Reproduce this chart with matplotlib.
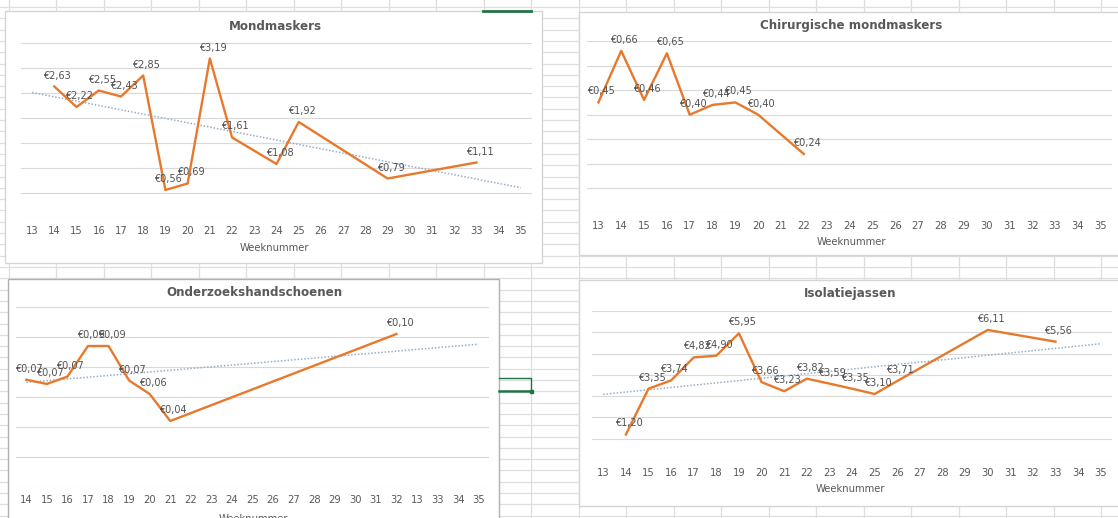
import numpy as np
import matplotlib
matplotlib.use('Agg')
import matplotlib.pyplot as plt
from matplotlib.patches import Rectangle

plt.rcParams['font.family'] = ['DejaVu Sans']

# ---------------- data ----------------
week_axis = list(range(13, 36))

mond_weeks = [14, 15, 16, 17, 18, 19, 20, 21, 22, 24, 25, 29, 33]
mond_prices = [2.63, 2.22, 2.55, 2.43, 2.85, 0.56, 0.69, 3.19, 1.61, 1.08, 1.92, 0.79, 1.11]

chir_weeks = [13, 14, 15, 16, 17, 18, 19, 20, 22]
chir_prices = [0.45, 0.66, 0.46, 0.65, 0.40, 0.44, 0.45, 0.40, 0.24]

hand_categories = ['14', '15', '16', '17', '18', '19', '20', '21', '22', '23', '24', '25',
                   '26', '27', '28', '29', '30', '31', '32', '13', '33', '34', '35']
hand_weeks = ['14', '15', '16', '17', '18', '19', '20', '21', '32']
hand_prices = [0.0715, 0.0687, 0.0736, 0.094, 0.094, 0.071, 0.062, 0.044, 0.102]

iso_weeks = [14, 15, 16, 17, 18, 19, 20, 21, 22, 23, 24, 25, 26, 30, 33]
iso_prices = [1.20, 3.35, 3.74, 4.82, 4.90, 5.95, 3.66, 3.23, 3.82, 3.59, 3.35, 3.10, 3.71, 6.11, 5.56]

titles = ['Mondmaskers', 'Chirurgische mondmaskers', 'Onderzoekshandschoenen', 'Isolatiejassen']
xlabel = 'Weeknummer'

# ---------------- figure ----------------
W, H = 1118, 518
fig = plt.figure(figsize=(W / 100, H / 100), dpi=100)
fig.patch.set_facecolor('white')
bg = fig.add_axes([0, 0, 1, 1])
bg.set_xlim(0, W)
bg.set_ylim(H, 0)
bg.axis('off')

cell_c = '#dedede'
for x in np.arange(8.5, W, 47.5):
    bg.plot([x, x], [0, H], color=cell_c, lw=0.9, zorder=1)
for y in np.arange(267 - 11.3 * 23, H, 11.3):
    bg.plot([0, W], [y, y], color=cell_c, lw=0.9, zorder=1)

TXT = '#595959'
LINE = '#E8792C'
TREND = '#97AECB'
TITLE_FS = 8.6
TICK_FS = 7.2
LAB_FS = 7.0
XL_FS = 7.2


def fmt(v):
    return ('€%.2f' % v).replace('.', ',')


def chart_box(x0, y0, x1, y1, ec='#d4d4d4'):
    bg.add_patch(Rectangle((x0, y0), x1 - x0, y1 - y0, facecolor='white',
                           edgecolor=ec, lw=1.0, zorder=2))


def px_axes(x0, y0, x1, y1):
    return fig.add_axes([x0 / W, 1 - y1 / H, (x1 - x0) / W, (y1 - y0) / H])


def style(ax, xticks, xticklabels, xlim, ymax, step):
    ax.set_facecolor('none')
    for s in ax.spines.values():
        s.set_visible(False)
    ax.set_xlim(*xlim)
    ax.set_ylim(0, ymax)
    ax.set_yticks(np.arange(0, ymax + step / 2, step))
    ax.set_yticklabels([])
    ax.tick_params(axis='y', length=0)
    ax.set_xticks(xticks)
    ax.set_xticklabels(xticklabels)
    ax.tick_params(axis='x', length=0, pad=5.5, labelsize=TICK_FS, colors=TXT)
    ax.yaxis.grid(True, color='#d9d9d9', lw=0.8)
    ax.set_axisbelow(True)


def labels(ax, xs, ys):
    for x, y in zip(xs, ys):
        ax.annotate(fmt(y), (x, y), xytext=(3, 11), textcoords='offset pixels',
                    ha='center', va='center', fontsize=LAB_FS, color='#505050',
                    annotation_clip=False)


def trend(ax, xs, ys, x0, x1):
    c = np.polyfit(xs, ys, 1)
    tx = np.array([x0, x1])
    ax.plot(tx, np.polyval(c, tx), color=TREND, lw=1.1, ls=(0, (1, 1.2)), zorder=2)


def title(x, y, s):
    bg.text(x, y, s, ha='center', va='center', fontsize=TITLE_FS, fontweight='bold',
            color=TXT, zorder=5)


def xlab(x, y):
    bg.text(x, y, xlabel, ha='center', va='center', fontsize=XL_FS, color=TXT, zorder=5)


# ---- chart 1: Mondmaskers ----
chart_box(5, 11, 542, 263)
ax1 = px_axes(21, 43, 532, 218)
style(ax1, week_axis, [str(w) for w in week_axis], (12.5, 35.5), 3.5, 0.5)
trend(ax1, mond_weeks, mond_prices, 13, 35)
ax1.plot(mond_weeks, mond_prices, color=LINE, lw=1.7, zorder=3)
labels(ax1, mond_weeks, mond_prices)
title(275, 26, titles[0])
xlab(274, 248)

# ---- chart 2: Chirurgische mondmaskers ----
chart_box(578.5, 12, 1125, 255)
ax2 = px_axes(587, 41, 1112, 213)
style(ax2, week_axis, [str(w) for w in week_axis], (12.5, 35.5), 0.7, 0.1)
ax2.plot(chir_weeks, chir_prices, color=LINE, lw=1.7, zorder=3)
labels(ax2, chir_weeks, chir_prices)
title(851, 26, titles[1])
xlab(851, 242)

# ---- chart 3: Onderzoekshandschoenen ----
chart_box(8, 279, 499, 540, ec='#b0b0b0')
ax3 = px_axes(16, 307, 489, 487)
hand_idx = list(range(len(hand_categories)))
style(ax3, hand_idx, hand_categories, (-0.5, len(hand_categories) - 0.5), 0.12, 0.02)
hand_x = [hand_categories.index(w) for w in hand_weeks]
trend(ax3, hand_x, hand_prices, 0, len(hand_categories) - 1)
ax3.plot(hand_x, hand_prices, color=LINE, lw=1.7, zorder=3)
labels(ax3, hand_x, hand_prices)
title(254, 293, titles[2])
xlab(253, 519)

# ---- chart 4: Isolatiejassen ----
chart_box(579, 280, 1125, 506)
ax4 = px_axes(592, 311, 1112, 460)
style(ax4, week_axis, [str(w) for w in week_axis], (12.5, 35.5), 7, 1)
trend(ax4, iso_weeks, iso_prices, 13, 35)
ax4.plot(iso_weeks, iso_prices, color=LINE, lw=1.7, zorder=3)
labels(ax4, iso_weeks, iso_prices)
title(850, 293, titles[3])
xlab(850, 489)

# ---- Excel selection marks ----
GREEN = '#217346'
bg.plot([483, 531], [10.5, 10.5], color=GREEN, lw=2, zorder=6)
bg.plot([499, 531, 531], [378, 378, 391], color=GREEN, lw=1, zorder=6)
bg.plot([499, 531], [391, 391], color=GREEN, lw=1.8, zorder=6)
bg.add_patch(Rectangle((529.5, 389.5), 3.5, 3.5, color=GREEN, zorder=7))

fig.savefig('out.png', dpi=100, facecolor='white')
